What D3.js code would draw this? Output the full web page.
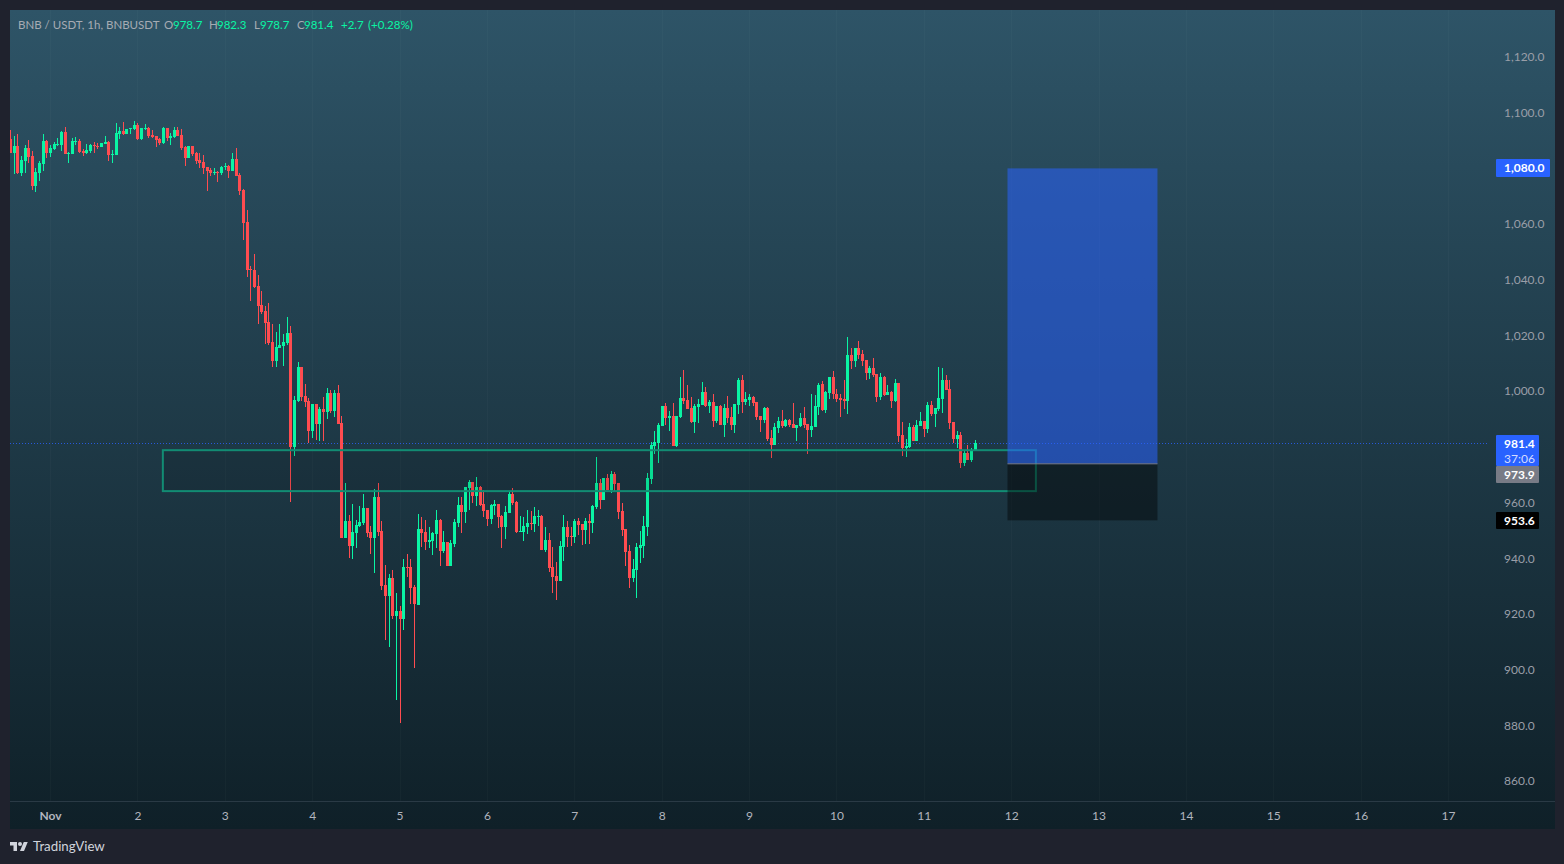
<!DOCTYPE html>
<html>
<head>
<meta charset="utf-8">
<script src="https://cdnjs.cloudflare.com/ajax/libs/d3/7.8.5/d3.min.js"></script>
<style>
  html, body { margin: 0; background: #1f222d; overflow: hidden; }
  text { font-family: "Lato", "Open Sans", sans-serif; }
</style>
</head>
<body>
<svg id="chart" width="1564" height="864"></svg>
<script>
// hourly BNBUSDT bars
const opens = [
  1090.5,1085.5,1088.0,1078.2,1082.6,1087.2,1084.4,1073.6,1078.3,1081.4,
  1089.8,1085.5,1086.9,1088.3,1088.3,1093.0,1085.1,1085.1,1089.5,1089.8,
  1086.2,1085.5,1086.2,1088.3,1088.0,1087.6,1088.7,1089.4,1084.7,1084.7,
  1092.3,1093.4,1092.3,1094.1,1094.1,1095.5,1090.5,1094.1,1094.4,1091.9,
  1091.6,1090.6,1089.0,1094.4,1090.8,1091.2,1093.7,1091.9,1087.6,1083.7,
  1088.0,1085.5,1082.9,1082.2,1080.4,1079.3,1078.3,1078.6,1078.3,1080.4,
  1080.8,1079.0,1083.3,1077.6,1072.2,1060.6,1043.7,1043.4,1037.6,1030.8,
  1028.7,1024.7,1017.5,1010.7,1015.4,1016.1,1017.2,1020.8,979.8,996.3,
  1008.5,998.1,996.3,985.6,995.3,988.1,993.5,992.4,999.2,992.7,
  999.2,988.4,947.2,953.3,944.3,949.0,951.5,952.6,957.9,949.3,
  947.2,961.9,949.7,930.3,926.4,932.8,919.2,921.0,918.1,936.8,
  936.8,929.6,923.1,950.4,949.3,945.7,946.1,948.6,953.6,942.5,
  945.7,937.1,945.0,952.6,959.0,956.5,965.1,967.3,962.3,965.5,
  959.4,957.2,954.0,958.7,959.4,955.1,951.2,956.2,963.0,960.1,
  949.4,949.4,951.2,952.6,952.2,954.8,955.1,942.9,946.5,936.8,
  933.6,931.8,944.0,951.2,947.9,947.6,953.3,952.2,950.1,953.3,
  952.6,958.3,967.0,960.9,968.8,964.4,970.2,967.0,956.9,950.4,
  942.5,932.8,935.7,943.6,944.3,951.2,968.4,980.2,981.3,987.4,
  994.6,990.3,991.0,980.2,990.6,997.5,996.7,993.9,988.8,994.2,
  994.9,999.6,994.6,996.0,989.2,994.6,987.8,993.9,990.6,987.8,
  994.9,1003.9,996.0,996.7,997.8,996.0,991.0,989.6,993.9,983.1,
  980.6,986.7,989.2,987.4,989.6,988.1,986.7,987.4,990.3,988.1,
  986.0,987.0,994.2,1002.5,993.2,999.3,1005.0,998.9,997.5,997.1,
  996.4,1012.9,1010.8,1015.4,1013.3,1011.1,1006.5,1008.3,1006.1,997.8,
  1005.0,998.6,999.6,996.4,1002.9,984.2,979.5,979.9,987.1,982.0,
  987.4,989.2,986.3,995.0,991.7,993.5,997.1,1003.9,1000.7,988.9,
  982.8,984.2,974.1,977.7,975.2,978.7
];
const highs = [
  1093.7,1091.6,1092.3,1084.3,1088.3,1090.1,1086.2,1080.1,1082.8,1092.3,
  1090.1,1088.3,1089.3,1090.8,1093.4,1094.8,1085.8,1090.8,1091.2,1090.5,
  1086.9,1088.7,1088.7,1089.4,1089.0,1089.0,1091.6,1089.8,1086.5,1096.2,
  1094.8,1096.6,1094.1,1094.4,1096.9,1096.2,1094.4,1095.9,1094.8,1093.7,
  1091.6,1090.8,1094.8,1094.4,1092.6,1094.8,1094.8,1094.1,1088.0,1088.0,
  1088.0,1085.8,1085.5,1084.7,1080.4,1080.1,1080.1,1079.0,1080.8,1081.9,
  1081.1,1085.5,1087.2,1078.3,1072.5,1064.9,1044.8,1049.1,1041.6,1035.8,
  1030.5,1031.5,1024.0,1021.1,1024.0,1020.4,1026.5,1023.3,998.1,1010.3,
  1008.5,1002.4,997.4,995.3,995.3,994.2,997.8,1001.0,1000.3,1000.3,
  1002.1,991.0,966.9,955.4,959.4,953.6,958.7,963.0,957.9,951.5,
  964.8,966.9,953.3,937.5,934.3,935.7,927.4,922.8,939.6,941.4,
  939.6,930.3,955.8,954.7,953.6,951.1,949.3,957.2,954.0,949.7,
  945.7,946.5,954.0,961.9,961.9,965.5,968.0,967.3,969.1,965.9,
  964.4,957.2,959.4,960.8,959.4,955.5,958.7,964.1,965.2,960.5,
  955.1,954.7,957.3,956.9,958.3,957.3,955.5,951.2,949.0,944.0,
  938.6,946.1,955.5,953.3,951.2,954.0,954.4,952.2,954.4,955.8,
  959.1,976.3,968.4,968.8,970.2,971.3,970.9,967.0,959.8,950.4,
  944.7,939.7,945.4,949.7,955.1,970.5,981.7,985.6,988.5,994.6,
  995.7,992.8,995.7,991.0,1005.0,1007.5,1002.1,997.8,995.3,997.1,
  1003.2,1001.4,996.7,998.9,994.6,994.9,995.3,998.2,994.2,995.3,
  1004.6,1005.7,999.6,998.9,998.2,996.0,991.0,994.2,994.2,986.0,
  988.5,990.6,993.1,989.9,989.9,995.7,987.8,992.1,994.2,988.1,
  998.9,998.5,1002.8,1003.6,1000.0,1005.0,1007.2,1000.7,998.9,1003.9,
  1019.4,1015.4,1015.4,1018.0,1014.7,1011.1,1009.0,1011.8,1006.1,1006.5,
  1005.4,1002.2,1000.0,1004.3,1002.9,988.9,982.8,988.5,987.8,989.6,
  992.5,989.2,996.0,996.4,993.9,1008.6,1008.3,1005.7,1003.9,988.9,
  985.6,985.3,978.4,980.6,979.5,982.3
];
const lows = [
  1085.5,1077.9,1077.9,1077.2,1078.2,1082.1,1072.2,1071.5,1075.4,1079.0,
  1083.7,1084.0,1086.5,1088.0,1086.2,1085.1,1081.9,1085.1,1088.3,1085.5,
  1084.4,1085.1,1085.5,1085.5,1086.9,1087.6,1088.7,1082.6,1081.9,1084.7,
  1090.5,1091.9,1092.3,1092.3,1093.7,1090.1,1090.1,1093.7,1090.8,1090.8,
  1087.6,1088.3,1088.7,1089.8,1088.3,1090.8,1091.6,1086.5,1080.8,1083.7,
  1084.4,1081.5,1080.1,1077.9,1071.8,1077.2,1077.6,1075.0,1077.6,1079.3,
  1076.5,1079.0,1077.2,1070.4,1054.2,1040.9,1032.2,1036.9,1024.0,1027.6,
  1016.8,1016.4,1008.6,1008.6,1015.4,1008.9,1016.4,960.1,976.6,996.0,
  996.3,994.2,981.3,983.0,982.3,982.0,982.0,989.9,992.0,990.6,
  988.1,947.2,947.2,940.0,939.6,943.6,951.1,951.8,947.5,941.4,
  934.6,947.9,928.5,910.6,908.0,918.1,889.0,880.7,914.1,933.2,
  923.5,900.5,923.1,944.0,942.9,943.6,941.1,943.6,937.1,941.8,
  937.1,937.1,944.0,951.1,949.0,952.6,957.2,959.7,958.7,958.7,
  954.7,951.5,952.2,955.4,950.8,943.6,946.8,956.2,959.1,949.0,
  949.4,946.1,948.6,950.1,949.4,951.5,942.9,942.2,935.0,927.5,
  925.0,931.8,939.0,944.0,944.3,945.4,948.3,944.7,945.1,945.1,
  949.0,957.6,957.6,960.9,964.4,963.4,964.1,954.0,947.9,937.2,
  929.3,931.4,925.7,938.2,940.0,947.9,966.6,977.3,974.1,987.4,
  987.8,985.6,980.2,979.9,990.3,995.3,993.5,988.5,984.9,988.5,
  994.9,994.2,992.1,987.0,988.5,987.8,983.4,988.5,986.0,984.9,
  991.7,992.1,994.9,994.6,994.6,989.6,985.2,988.5,982.0,975.9,
  980.6,984.9,986.7,987.0,987.0,986.7,982.0,987.0,986.7,977.3,
  983.4,987.0,991.3,992.8,992.1,997.1,997.1,996.1,990.7,993.5,
  991.7,1007.9,1008.6,1011.5,1009.0,1003.9,1004.3,1005.0,996.1,996.8,
  998.2,998.6,993.9,996.0,981.7,976.7,976.3,979.5,982.0,982.0,
  987.4,983.5,984.9,991.0,987.1,992.8,992.1,1000.4,986.3,981.3,
  979.5,972.3,973.1,975.2,974.5,978.7
];
const closes = [
  1085.5,1088.0,1078.2,1082.9,1087.2,1084.0,1073.6,1078.6,1081.9,1089.8,
  1085.5,1087.2,1088.7,1088.7,1093.0,1085.1,1085.5,1089.8,1089.9,1085.8,
  1085.5,1086.5,1088.3,1088.0,1087.6,1089.0,1089.4,1084.7,1085.1,1092.6,
  1093.4,1092.3,1094.1,1094.4,1095.5,1090.5,1094.4,1094.4,1091.6,1091.2,
  1090.1,1089.0,1094.4,1090.8,1091.6,1093.7,1091.6,1087.2,1083.7,1088.0,
  1085.1,1082.6,1081.9,1080.1,1079.0,1078.3,1078.6,1078.3,1080.4,1080.8,
  1079.0,1083.3,1077.2,1071.8,1060.3,1043.4,1043.4,1037.3,1030.5,1028.3,
  1024.3,1017.2,1010.7,1015.7,1016.4,1017.5,1020.8,979.8,996.7,1008.5,
  997.8,996.0,985.6,995.3,988.1,993.5,992.4,999.2,992.7,999.2,
  988.1,947.2,953.3,944.3,949.3,951.8,952.9,957.9,949.0,947.2,
  961.9,949.3,929.9,926.4,932.8,919.2,921.0,918.1,936.8,936.4,
  929.2,923.5,950.4,949.0,945.7,946.5,949.0,953.6,942.5,945.7,
  937.1,945.4,952.9,959.0,956.5,965.5,967.3,962.3,965.5,959.0,
  956.9,954.0,959.0,959.4,954.7,951.2,956.5,963.0,959.8,949.4,
  949.7,951.5,952.6,952.2,955.1,955.1,942.9,946.5,936.4,933.2,
  931.8,944.3,951.2,947.6,947.6,953.3,951.9,950.1,953.3,952.6,
  958.7,967.0,960.9,968.8,964.4,970.2,966.6,956.5,950.1,942.2,
  932.8,936.1,944.0,944.7,951.5,968.8,980.6,981.7,987.8,994.6,
  990.3,991.0,980.2,991.0,997.5,996.4,993.5,988.8,994.6,995.3,
  999.6,994.6,996.0,989.2,994.6,987.8,993.9,990.3,987.8,995.3,
  1003.9,996.0,997.1,997.8,995.7,990.6,989.6,993.9,982.7,980.6,
  987.0,989.2,987.4,989.6,987.8,986.7,987.8,990.3,987.8,986.0,
  987.4,994.6,1002.1,993.2,999.6,1005.0,998.9,997.1,996.8,996.4,
  1012.9,1010.8,1015.4,1012.9,1010.8,1006.5,1008.3,1005.7,997.8,1005.0,
  998.6,999.6,996.4,1002.9,983.8,979.5,980.2,987.1,982.0,987.8,
  989.2,986.3,995.0,991.7,993.9,997.5,1003.9,1000.4,988.5,982.8,
  984.2,974.1,977.7,975.2,978.8,981.4
];
const firstBar = Date.UTC(2025, 9, 31, 13);
const hour = 3600000;

const priceTicks = [860, 880, 900, 920, 940, 960, 1000, 1020, 1040, 1060, 1100, 1120];
const dayTicks = d3.range(1, 18);
const dayLabels = ["Nov", "2", "3", "4", "5", "6", "7", "8", "9", "10", "11", "12", "13", "14", "15", "16", "17"];

// drawings
const zoneHours = [31, 270.8];
const zonePrices = [978.8, 964.1];
const positionHours = [263, 304.2];
const targetPrice = 1080.0;
const entryPrice = 973.9;
const stopPrice = 953.6;
const lastPrice = 981.4;
const countdown = "37:06";

const legendParts = [
  ["BNB / USDT, 1h, BNBUSDT", 18, false],
  ["O", 164, false], ["978.7", 173, true],
  ["H", 209, false], ["982.3", 217, true],
  ["L", 254, false], ["978.7", 260, true],
  ["C", 297, false], ["981.4", 304, true],
  ["+2.7", 341, true], ["(+0.28%)", 368, true]
];

const UP = "#0af5a4", DOWN = "#ff4c50", TEXT = "#9a9ea8";
const left = 10, right = 1555, top_ = 10, bottom = 829, axisY = 802, scaleX = 1488;

const svg = d3.select("#chart");
const defs = svg.append("defs");
const grad = defs.append("linearGradient").attr("id", "bg").attr("x1", 0).attr("x2", 0).attr("y1", 0).attr("y2", 1);
grad.append("stop").attr("offset", "0%").attr("stop-color", "#2e5467");
grad.append("stop").attr("offset", "100%").attr("stop-color", "#0f2028");
defs.append("clipPath").attr("id", "pane").append("rect")
  .attr("x", left).attr("y", top_).attr("width", scaleX - left).attr("height", axisY - top_);

svg.append("rect").attr("x", left).attr("y", top_).attr("width", right - left).attr("height", bottom - top_).attr("fill", "url(#bg)");

const x = d3.scaleUtc()
  .domain([Date.UTC(2025, 10, 1), Date.UTC(2025, 10, 17)])
  .range([50, 1448]);
const y = d3.scaleLinear().domain([860, 1120]).range([781, 57]);
const barX = i => Math.round(x(firstBar + i * hour));
const fromNov1 = h => x(Date.UTC(2025, 10, 1) + h * hour);

// faint day grid
svg.append("g").selectAll("line").data(dayTicks).enter().append("line")
  .attr("x1", d => Math.round(x(Date.UTC(2025, 10, d))) + 0.5)
  .attr("x2", d => Math.round(x(Date.UTC(2025, 10, d))) + 0.5)
  .attr("y1", top_).attr("y2", axisY)
  .attr("stroke", "#fff").attr("stroke-opacity", 0.025);

svg.append("line").attr("x1", left).attr("x2", right).attr("y1", axisY - 0.5).attr("y2", axisY - 0.5)
  .attr("stroke", "#2a3a45");

// last price line
svg.append("line").attr("x1", left).attr("x2", scaleX)
  .attr("y1", Math.round(y(lastPrice)) + 0.5).attr("y2", Math.round(y(lastPrice)) + 0.5)
  .attr("stroke", "#2962ff").attr("stroke-opacity", 0.8).attr("stroke-dasharray", "1 2");

const pane = svg.append("g").attr("clip-path", "url(#pane)");

// candles
const bars = opens.map((o, i) => ({ i, o, h: highs[i], l: lows[i], c: closes[i] }));
const color = d => d.c >= d.o ? UP : DOWN;

pane.append("g").attr("shape-rendering", "crispEdges").selectAll("rect").data(bars).enter().append("rect")
  .attr("x", d => barX(d.i))
  .attr("width", 1)
  .attr("y", d => Math.round(y(d.h)))
  .attr("height", d => Math.max(1, Math.round(y(d.l)) - Math.round(y(d.h))))
  .attr("fill", color);

pane.append("g").attr("shape-rendering", "crispEdges").selectAll("rect").data(bars).enter().append("rect")
  .attr("x", d => barX(d.i) - 1)
  .attr("width", 3)
  .attr("y", d => Math.round(y(Math.max(d.o, d.c))))
  .attr("height", d => Math.max(1, Math.round(y(Math.min(d.o, d.c))) - Math.round(y(Math.max(d.o, d.c)))))
  .attr("fill", color);

// support zone
pane.append("rect")
  .attr("x", fromNov1(zoneHours[0])).attr("y", y(zonePrices[0]))
  .attr("width", fromNov1(zoneHours[1]) - fromNov1(zoneHours[0]))
  .attr("height", y(zonePrices[1]) - y(zonePrices[0]))
  .attr("fill", "#000").attr("fill-opacity", 0.1)
  .attr("stroke", "#128c73").attr("stroke-width", 2);

// long position
const posX = fromNov1(positionHours[0]), posW = fromNov1(positionHours[1]) - posX;
pane.append("rect").attr("x", posX).attr("width", posW)
  .attr("y", y(targetPrice)).attr("height", y(entryPrice) - y(targetPrice))
  .attr("fill", "#2962ff").attr("fill-opacity", 0.55);
pane.append("rect").attr("x", posX).attr("width", posW)
  .attr("y", y(entryPrice)).attr("height", y(stopPrice) - y(entryPrice))
  .attr("fill", "#000").attr("fill-opacity", 0.42);
pane.append("line").attr("x1", posX).attr("x2", posX + posW)
  .attr("y1", y(entryPrice)).attr("y2", y(entryPrice))
  .attr("stroke", "#787b86").attr("stroke-width", 1);

// axes
const priceAxis = svg.append("g").attr("transform", `translate(${scaleX},0)`)
  .call(d3.axisRight(y).tickValues(priceTicks).tickSize(0).tickPadding(16).tickFormat(d3.format(",.1f")));
priceAxis.select(".domain").remove();
priceAxis.selectAll("text").attr("fill", TEXT).attr("font-size", 12).style("font-family", '"Lato", sans-serif');

const timeAxis = svg.append("g").attr("transform", `translate(0,${axisY})`)
  .call(d3.axisBottom(x).tickValues(dayTicks.map(d => Date.UTC(2025, 10, d))).tickSize(0).tickPadding(9)
    .tickFormat((d, i) => dayLabels[i]));
timeAxis.select(".domain").remove();
timeAxis.selectAll("text").attr("fill", "#b2b5be").attr("font-size", 12).style("font-family", '"Lato", sans-serif')
  .attr("font-weight", (d, i) => i === 0 ? 700 : 400);

// price tags
const tags = [
  { top: 159, h: 18, w: 54, fill: "#2962ff", lines: [d3.format(",.1f")(targetPrice)] },
  { top: 435, h: 31, w: 43, fill: "#2962ff", lines: [lastPrice.toFixed(1), countdown] },
  { top: 466, h: 17, w: 43, fill: "#787b86", lines: [entryPrice.toFixed(1)] },
  { top: 512, h: 17, w: 43, fill: "#000", lines: [stopPrice.toFixed(1)] }
];
const tag = svg.append("g").selectAll("g").data(tags).enter().append("g");
tag.append("rect").attr("x", 1496).attr("y", d => d.top).attr("width", d => d.w).attr("height", d => d.h)
  .attr("rx", 1).attr("fill", d => d.fill);
tag.each(function (d) {
  d.lines.forEach((s, k) => {
    d3.select(this).append("text").attr("x", 1504).attr("y", d.top + 13 + k * 14.5)
      .attr("font-size", 12).attr("font-weight", k === 0 ? 700 : 400)
      .attr("fill", k === 0 ? "#fff" : "#d5dcff").text(s);
  });
});

// legend
svg.append("g").selectAll("text").data(legendParts).enter().append("text")
  .attr("x", d => d[1]).attr("y", 29).attr("font-size", 11.5)
  .attr("fill", d => d[2] ? UP : "#a6abb3").text(d => d[0]);

// footer logo
const logo = svg.append("g").attr("transform", "translate(10,840) scale(0.5)").attr("fill", "#d1d4dc");
logo.append("path").attr("d", "M14 22H7V11H0V4h14v18zM28 22h-8l7.5-18h8L28 22z");
logo.append("circle").attr("cx", 20).attr("cy", 8).attr("r", 4);
svg.append("text").attr("x", 33).attr("y", 851).attr("font-size", 13.3).attr("fill", "#d1d4dc").text("TradingView");
</script>
</body>
</html>
